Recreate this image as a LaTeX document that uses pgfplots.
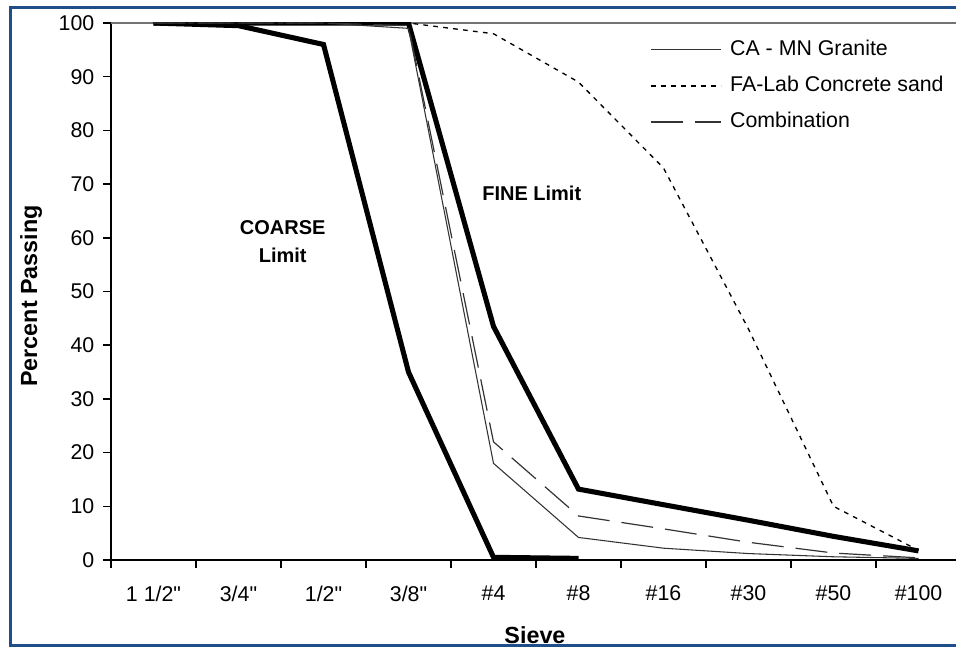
\documentclass[border=0pt]{standalone}
\usepackage{pgfplots}
\pgfplotsset{compat=1.18}
\usepackage{pgfplotstable}
\usepackage{fontspec}
\setmainfont{Liberation Sans}
\definecolor{frameblue}{RGB}{31,78,137}

% sieve categories: 0=1 1/2", 1=3/4", 2=1/2", 3=3/8", 4=#4, 5=#8, 6=#16, 7=#30, 8=#50, 9=#100
\pgfplotstableread{
x coarse fine granite sand combo
0 100  100  100  100  100
1 99.5 100  100  100  100
2 96   100  100  100  100
3 35   100  99   100  99.5
4 0.5  43.5 18   98   22
5 0.3  13.2 4.2  89   8.2
6 nan  10.3 2.2  73   5.8
7 nan  7.4  1.2  43   3.3
8 nan  4.4  0.6  10   1.3
9 nan  1.7  0.3  1.8  0.4
}\gradation

\begin{document}
\begin{tikzpicture}
\useasboundingbox (0,0) rectangle (717pt,485.25pt);
\draw[frameblue, line width=2.25pt] (7.9pt,1.5pt) rectangle (740pt,479.6pt);
\begin{axis}[
  at={(83.25pt,65.25pt)}, anchor=south west,
  width=637.5pt, height=402.75pt, scale only axis,
  xmin=-0.5, xmax=9.5, ymin=0, ymax=100,
  axis lines*=left,
  axis line style={line width=1.2pt, black},
  tick align=outside,
  xtick={0,...,9},
  xticklabels={1 1/2\textquotedbl, 3/4\textquotedbl, 1/2\textquotedbl, 3/8\textquotedbl, \#4, \#8, \#16, \#30, \#50, \#100},
  major x tick style={draw=none},
  minor xtick={-0.5,0.5,...,9.5},
  minor tick length=6pt,
  minor tick style={line width=1.2pt, black},
  ytick={0,10,...,100},
  major tick length=6pt,
  major y tick style={line width=1.2pt, black},
  tick label style={font=\fontsize{16}{19}\selectfont},
  /pgf/number format/assume math mode=true,
  xticklabel style={yshift=-10pt},
  yticklabel style={xshift=-3pt},
  xlabel={Sieve},
  ylabel={Percent Passing},
  label style={font=\bfseries\fontsize{17.5}{20}\selectfont},
  xlabel style={at={(axis description cs:0.4988,-0.14)}, anchor=center},
  ylabel style={at={(axis description cs:-0.094,0.4916)}, anchor=center},
  legend style={at={(axis description cs:0.634,0.969)}, anchor=north west,
    draw=none, fill=none, inner sep=0pt, row sep=12pt,
    font=\fontsize{16}{19}\selectfont,
    nodes={inner sep=0pt, text height=12pt, text depth=3pt}},
  legend cell align=left,
  legend image code/.code={%
    \draw[#1] (0pt,0pt) -- (52.5pt,0pt);
    \path (59pt,0pt);},
  clip=true,
]
\draw[black!55, line width=1.2pt] (rel axis cs:0,1) -- (rel axis cs:1,1);

\addplot[black, line width=3.8pt, forget plot] table[x=x, y=coarse] {\gradation};
\addplot[black, line width=3.8pt, forget plot] table[x=x, y=fine] {\gradation};

\addplot[black!80, line width=0.8pt] table[x=x, y=granite] {\gradation};
\addlegendentry{CA - MN Granite}
\addplot[black, line width=1pt, dash pattern=on 3.5pt off 4pt] table[x=x, y=sand] {\gradation};
\addlegendentry{FA-Lab Concrete sand}
\addplot[black!80, line width=0.9pt, dash pattern=on 24pt off 9pt] table[x=x, y=combo] {\gradation};
\addlegendentry{Combination}

\node[font=\bfseries\fontsize{15}{21}\selectfont, align=center] at (axis cs:1.52,59.2) {COARSE\\Limit};
\node[font=\bfseries\fontsize{15}{21}\selectfont] at (axis cs:4.45,68.2) {FINE Limit};
\end{axis}
\end{tikzpicture}
\end{document}
